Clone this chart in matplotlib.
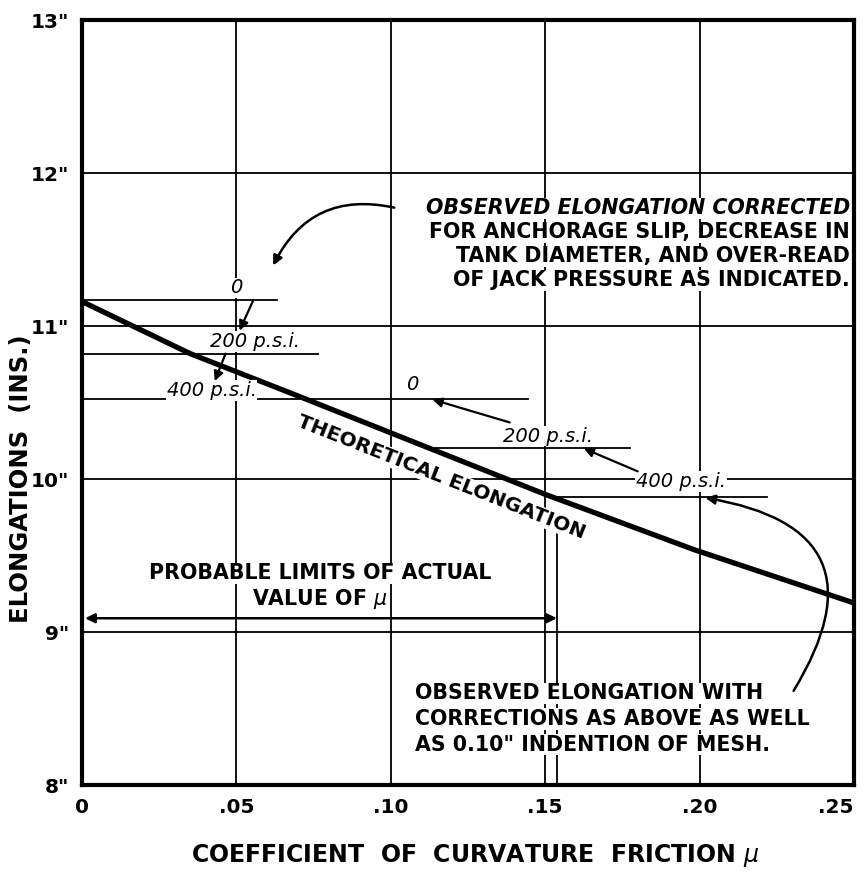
import numpy as np
import matplotlib
matplotlib.use("Agg")
import matplotlib.pyplot as plt
from matplotlib.patches import FancyArrowPatch

# %% data
theo_u = [0.0, 0.035, 0.0716, 0.0965, 0.150, 0.198, 0.25]
theo_v = [11.16, 10.82, 10.53, 10.33, 9.90, 9.54, 9.19]

# observed elongation lines: level, start u, end u
obs_level = [11.17, 10.82, 10.52, 10.20, 9.88]
obs_start = [0.0, 0.0, 0.0, 0.113, 0.154]
obs_end = [0.063, 0.0764, 0.1444, 0.1775, 0.2218]

# italic pressure labels
psi_text = ["0", "200 p.s.i.", "400 p.s.i.", "0", "200 p.s.i.", "400 p.s.i."]
psi_u = [0.050, 0.056, 0.042, 0.107, 0.151, 0.194]
psi_v = [11.25, 10.90, 10.58, 10.62, 10.28, 9.985]

# short straight arrows between labels (tail -> head)
arr_tail = [(0.0555, 11.17), (0.0465, 10.82), (0.1385, 10.37), (0.1800, 10.05)]
arr_head = [(0.0510, 10.97), (0.0430, 10.64), (0.1135, 10.52), (0.1625, 10.20)]

xticks = [0, 0.05, 0.10, 0.15, 0.20, 0.25]
xtick_labels = ["0", ".05", ".10", ".15", ".20", ".25"]
yticks = [8, 9, 10, 11, 12, 13]
ytick_labels = ['8"', '9"', '10"', '11"', '12"', '13"']

limit_lo, limit_hi, limit_v = 0.0, 0.1538, 9.09

# %% figure
plt.rcParams["font.family"] = "DejaVu Sans"
fig = plt.figure(figsize=(8.66, 8.73), dpi=100)
ax = fig.add_axes([0.0947, 0.1008, 0.8913, 0.8762])
ax.set_xlim(0, 0.25)
ax.set_ylim(8, 13)

ax.set_xticks(xticks)
ax.set_xticklabels(xtick_labels, fontsize=14.5, fontweight="bold")
ax.get_xticklabels()[-1].set_ha("right")
ax.set_yticks(yticks)
ax.set_yticklabels(ytick_labels, fontsize=14.5, fontweight="bold")
ax.tick_params(length=0, pad=9)
ax.tick_params(axis="x", pad=9)
for s in ax.spines.values():
    s.set_linewidth(3)

for u in [0.05, 0.10, 0.15, 0.20]:
    ax.axvline(u, color="black", lw=1.3, zorder=1)
for v in [9, 10, 11, 12]:
    ax.axhline(v, color="black", lw=1.3, zorder=1)
ax.plot([0.1538, 0.1538], [8, 9.75], color="black", lw=1.3, zorder=1)

ax.plot(theo_u, theo_v, color="black", lw=3.8, solid_capstyle="butt", zorder=3)

for lv, a, b in zip(obs_level, obs_start, obs_end):
    ax.plot([a, b], [lv, lv], color="black", lw=1.3, zorder=2)

for t, u, v in zip(psi_text, psi_u, psi_v):
    ax.text(u, v, t, fontsize=14, style="italic", ha="center", va="center",
            zorder=5, bbox=dict(fc="white", ec="none", pad=0.5))

for tl, hd in zip(arr_tail, arr_head):
    ax.annotate("", xy=hd, xytext=tl,
                arrowprops=dict(arrowstyle="-|>", lw=1.6, color="black",
                                mutation_scale=14, shrinkA=0, shrinkB=0),
                zorder=6)

# probable limits arrow
ax.annotate("", xy=(limit_hi, limit_v), xytext=(limit_lo + 0.001, limit_v),
            arrowprops=dict(arrowstyle="<|-|>", lw=1.8, color="black",
                            mutation_scale=14, shrinkA=0, shrinkB=0), zorder=6)
ax.text(0.077, 9.385, "PROBABLE LIMITS OF ACTUAL", fontsize=14.8, fontweight="bold",
        ha="center", va="center", zorder=5, bbox=dict(fc="white", ec="none", pad=0.5))
ax.text(0.077, 9.215, r"VALUE OF $\mathit{\mu}$", fontsize=14.8, fontweight="bold",
        ha="center", va="center", zorder=5, bbox=dict(fc="white", ec="none", pad=0.5))

ax.text(0.1165, 10.01, "THEORETICAL ELONGATION", fontsize=14.5, fontweight="bold",
        rotation=-21.5, ha="center", va="center", rotation_mode="anchor",
        zorder=5, bbox=dict(fc="white", ec="none", pad=0.3))

# top note
top_lines = ["OBSERVED ELONGATION CORRECTED",
             "FOR ANCHORAGE SLIP, DECREASE IN",
             "TANK DIAMETER, AND OVER-READ",
             "OF JACK PRESSURE AS INDICATED."]
for i, line in enumerate(top_lines):
    ax.text(0.2487, 11.77 - i * 0.157, line, fontsize=14.8, fontweight="bold",
            style="italic" if i == 0 else "normal", ha="right", va="center",
            zorder=5, bbox=dict(fc="white", ec="none", pad=0.5))

bot_lines = ["OBSERVED ELONGATION WITH",
             "CORRECTIONS AS ABOVE AS WELL",
             'AS 0.10" INDENTION OF MESH.']
for i, line in enumerate(bot_lines):
    ax.text(0.108, 8.60 - i * 0.168, line, fontsize=14.8, fontweight="bold",
            ha="left", va="center", zorder=5,
            bbox=dict(fc="white", ec="none", pad=0.5))

# curved leader arrows
ax.add_patch(FancyArrowPatch((0.1020, 11.77), (0.0615, 11.38),
                             connectionstyle="arc3,rad=0.4", arrowstyle="-|>",
                             mutation_scale=14, lw=1.8, color="black", zorder=6))
ax.add_patch(FancyArrowPatch((0.2300, 8.60), (0.2010, 9.88),
                             connectionstyle="arc3,rad=0.75", arrowstyle="-|>",
                             mutation_scale=14, lw=1.8, color="black", zorder=6))

ax.set_xlabel(r"COEFFICIENT  OF  CURVATURE  FRICTION $\mathit{\mu}$",
              fontsize=17, fontweight="bold")
ax.xaxis.set_label_coords(0.51, -0.075)
ax.set_ylabel("ELONGATIONS  (INS.)", fontsize=17.5, fontweight="bold")
ax.yaxis.set_label_coords(-0.064, 0.40)

fig.savefig("out.png", dpi=100)
